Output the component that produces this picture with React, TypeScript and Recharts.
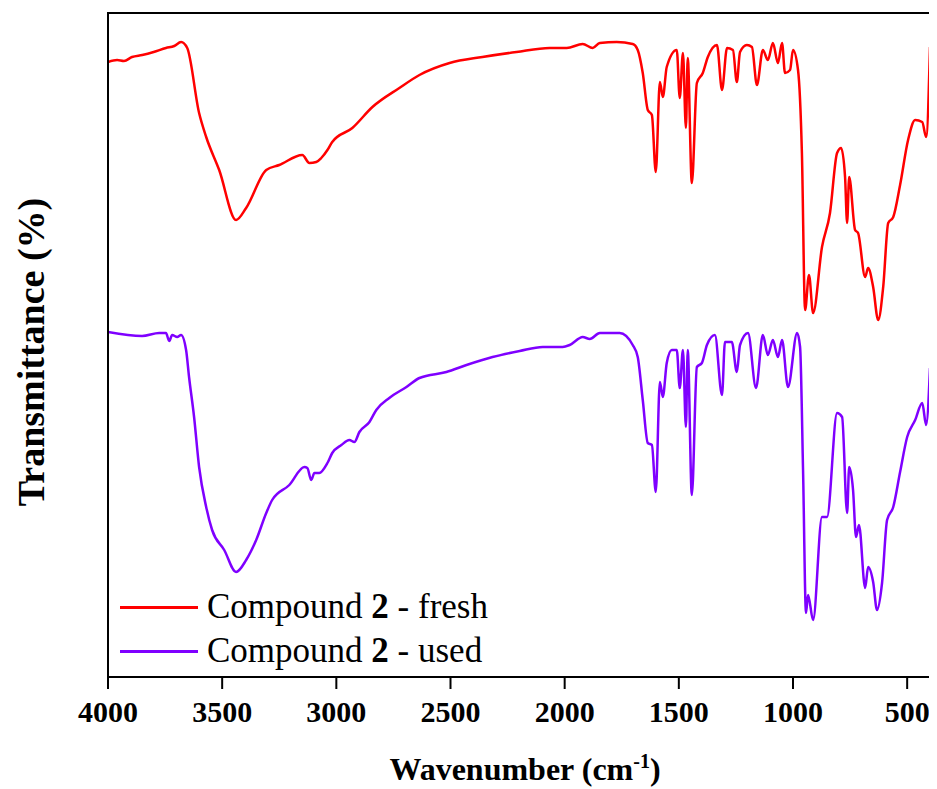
import React from 'react';
import { LineChart, Line, XAxis, YAxis, Legend } from 'recharts';

// wavenumbers (cm-1) and transmittance (arb. units)
const freshWn = [4000, 3960, 3930, 3895, 3850, 3800, 3746, 3710, 3680, 3653, 3601, 3570, 3513, 3439, 3395, 3307, 3250, 3149, 3118, 3088, 3066, 3039, 3018, 2930, 2842, 2724, 2636, 2504, 2360, 2211, 2066, 1991, 1921, 1877, 1846, 1772, 1702, 1680, 1658, 1636, 1618, 1601, 1583, 1570, 1553, 1509, 1496, 1482, 1469, 1461, 1443, 1421, 1395, 1373, 1333, 1311, 1289, 1263, 1246, 1232, 1202, 1180, 1158, 1132, 1110, 1088, 1066, 1048, 1035, 1013, 1000, 978, 961, 947, 930, 912, 873, 838, 807, 789, 772, 763, 754, 728, 715, 684, 671, 649, 627, 605, 583, 561, 531, 496, 465, 434, 417, 400];
const freshT = [615, 617, 616, 620, 622, 625, 629, 631, 635, 629, 564, 540, 507, 457, 469, 507, 512, 522, 514, 515, 519, 527, 535, 549, 570, 589, 602, 614, 620, 625, 629, 629, 633, 629, 634, 635, 633, 627, 604, 567, 562, 505, 595, 580, 610, 627, 579, 624, 549, 619, 494, 594, 604, 620, 632, 587, 629, 627, 595, 625, 632, 630, 592, 627, 617, 634, 614, 634, 604, 607, 627, 607, 524, 367, 402, 364, 430, 464, 524, 529, 500, 454, 500, 447, 444, 400, 409, 390, 357, 390, 454, 460, 492, 537, 557, 555, 540, 630];

const usedWn = [4000, 3851, 3776, 3746, 3732, 3719, 3697, 3680, 3658, 3645, 3623, 3601, 3570, 3544, 3491, 3439, 3395, 3351, 3307, 3281, 3206, 3140, 3127, 3110, 3096, 3075, 3039, 3018, 2978, 2943, 2921, 2899, 2855, 2825, 2768, 2693, 2636, 2518, 2430, 2316, 2197, 2096, 2009, 1978, 1921, 1890, 1846, 1759, 1702, 1680, 1658, 1636, 1618, 1601, 1583, 1570, 1553, 1531, 1509, 1496, 1482, 1469, 1461, 1443, 1421, 1399, 1377, 1342, 1311, 1298, 1268, 1246, 1232, 1197, 1162, 1132, 1110, 1088, 1066, 1048, 1022, 982, 969, 956, 943, 934, 912, 873, 851, 807, 785, 763, 754, 737, 724, 711, 684, 671, 649, 632, 610, 588, 561, 531, 500, 465, 434, 417, 400];
const usedT = [345, 341, 344, 344, 336, 342, 340, 342, 327, 300, 260, 210, 170, 147, 127, 105, 117, 137, 164, 177, 192, 210, 209, 197, 204, 204, 214, 224, 232, 237, 235, 245, 255, 267, 279, 290, 299, 305, 312, 320, 326, 330, 330, 332, 340, 338, 344, 344, 332, 320, 277, 234, 232, 185, 295, 280, 314, 327, 327, 289, 327, 250, 327, 182, 310, 314, 332, 342, 282, 335, 335, 305, 332, 344, 289, 342, 322, 337, 320, 337, 290, 344, 330, 207, 64, 82, 57, 160, 160, 264, 260, 164, 210, 187, 140, 152, 89, 110, 95, 67, 94, 157, 170, 205, 240, 257, 274, 252, 309];

const xTicks = [4000, 3500, 3000, 2500, 2000, 1500, 1000, 500];

const fresh = freshWn.map((wn, i) => ({ wn, t: freshT[i] }));
const used = usedWn.map((wn, i) => ({ wn, t: usedT[i] }));

const RED = '#ff0000';
const PURPLE = '#7f00ff';
const SERIF = '"Liberation Serif", "Times New Roman", serif';

// chart sits in normal flow at the body's 8px margin
const W = 929;
const H = 781;
const PLOT_TOP = 5;
const PLOT_LEFT = 100;
const PLOT_RIGHT = 922;
const PLOT_BOTTOM = 669;

const legendItems = [
  { color: RED, tail: ' - fresh' },
  { color: PURPLE, tail: ' - used' },
];

const renderLegend = () => (
  <div style={{ fontFamily: SERIF, fontSize: 35, color: '#000', lineHeight: '44px' }}>
    {legendItems.map(item => (
      <div key={item.tail} style={{ display: 'flex', alignItems: 'center', whiteSpace: 'nowrap' }}>
        <span style={{ display: 'inline-block', width: 78, height: 3, background: item.color, marginRight: 9 }} />
        <span>Compound <b>2</b>{item.tail}</span>
      </div>
    ))}
  </div>
);

const YLabel = () => (
  <text
    x={23}
    y={344}
    transform="rotate(-90, 23, 344)"
    textAnchor="middle"
    dominantBaseline="central"
    style={{ fontFamily: SERIF, fontSize: 38, fontWeight: 'bold', fill: '#000' }}
  >
    Transmittance (%)
  </text>
);

// x-axis title, and the closed box around the plot area
const XLabel = (props: any) => {
  const { viewBox } = props;
  const cx = viewBox.x + viewBox.width / 2;
  return (
    <g>
      <rect
        x={viewBox.x}
        y={PLOT_TOP}
        width={viewBox.width}
        height={viewBox.y - PLOT_TOP}
        fill="none"
        stroke="#000"
        strokeWidth={2}
      />
      <text x={cx + 6} y={772} textAnchor="middle" style={{ fontFamily: SERIF, fontSize: 32, fontWeight: 'bold', fill: '#000' }}>
        Wavenumber (cm<tspan dy={-12} fontSize={20}>-1</tspan><tspan dy={12}>)</tspan>
      </text>
    </g>
  );
};

export default function App() {
  return (
    <div style={{ position: 'relative', width: W, height: H, background: '#fff' }}>
      <LineChart width={W} height={H} margin={{ top: PLOT_TOP, right: W - PLOT_RIGHT, left: 0, bottom: 0 }}>
        <XAxis
          dataKey="wn"
          type="number"
          domain={[400, 4000]}
          reversed
          ticks={xTicks}
          allowDataOverflow
          height={H - PLOT_BOTTOM}
          tickSize={12}
          tickMargin={12}
          stroke="#000"
          strokeWidth={2}
          tick={{ fill: '#000', fontFamily: SERIF, fontSize: 30, fontWeight: 'bold' }}
          label={<XLabel />}
        />
        <YAxis
          type="number"
          domain={[0, 664]}
          width={PLOT_LEFT}
          tick={false}
          tickLine={false}
          stroke="#000"
          strokeWidth={2}
          label={<YLabel />}
        />
        <Legend
          layout="vertical"
          align="center"
          verticalAlign="middle"
          content={renderLegend}
          wrapperStyle={{ left: 112, top: 577, width: 420 }}
        />
        <Line data={fresh} dataKey="t" name="Compound 2 - fresh" type="monotone" stroke={RED} strokeWidth={2.5} dot={false} isAnimationActive={false} />
        <Line data={used} dataKey="t" name="Compound 2 - used" type="monotone" stroke={PURPLE} strokeWidth={2.5} dot={false} isAnimationActive={false} />
      </LineChart>
      {/* top and right edges of the plot box */}
      <div
        style={{
          position: 'absolute',
          left: PLOT_LEFT - 1,
          top: PLOT_TOP - 1,
          width: PLOT_RIGHT - PLOT_LEFT + 2,
          height: PLOT_BOTTOM - PLOT_TOP + 2,
          borderTop: '2px solid #000',
          borderRight: '2px solid #000',
          boxSizing: 'border-box',
          pointerEvents: 'none',
        }}
      />
    </div>
  );
}
